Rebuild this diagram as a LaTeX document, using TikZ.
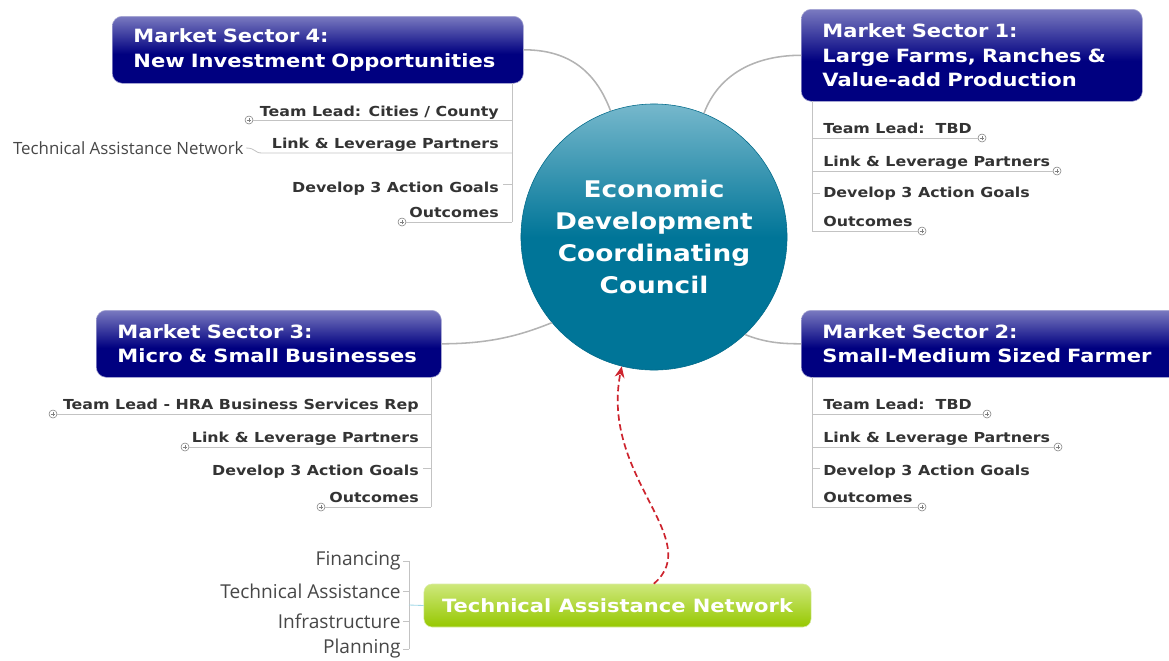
\documentclass[tikz,border=0pt]{standalone}
\usepackage{fontspec}
\setmainfont{DejaVu Sans}[FakeStretch=1.15]
\newfontfamily\lightfont{Open Sans}
\usetikzlibrary{arrows.meta}

\definecolor{navytop}{RGB}{122,122,192}
\definecolor{navybot}{RGB}{0,0,128}
\definecolor{tealtop}{RGB}{118,184,204}
\definecolor{tealbot}{RGB}{0,117,152}
\definecolor{greentop}{RGB}{206,232,124}
\definecolor{greenbot}{RGB}{150,200,0}
\definecolor{itemgray}{RGB}{51,51,51}
\definecolor{twiggray}{RGB}{195,195,195}
\definecolor{stubblue}{RGB}{160,215,230}
\definecolor{arrowred}{RGB}{205,35,45}

\pgfdeclareverticalshading{secshade}{100bp}{color(0bp)=(navybot); color(47bp)=(navybot); color(75bp)=(navytop); color(100bp)=(navytop)}
\pgfdeclareverticalshading{hubshade}{100bp}{color(0bp)=(tealbot); color(50bp)=(tealbot); color(75bp)=(tealtop); color(100bp)=(tealtop)}

\tikzset{
	sector/.style={rounded corners=0.25cm, shading=secshade, draw=navybot!35, line width=0.4pt, text=white,
		align=left, anchor=north west, inner xsep=0.53cm, font=\bfseries\fontsize{13}{17.6}\selectfont},
	item/.style={text=itemgray, font=\bfseries\fontsize{9.8}{12}\selectfont, inner sep=0pt},
	twig/.style={draw=twiggray, line width=0.6pt},
	branch/.style={draw=twiggray!92!black, line width=1.1pt},
	plusbtn/.style={circle, draw=gray, fill=white, minimum size=0.2cm, inner sep=0pt, line width=0.4pt,
		path picture={\draw[line width=0.5pt] ([xshift=-0.06cm]path picture bounding box.center) -- ([xshift=0.06cm]path picture bounding box.center)
			([yshift=-0.06cm]path picture bounding box.center) -- ([yshift=0.06cm]path picture bounding box.center);}},
	tanote/.style={text=black!72, font=\lightfont\fontsize{13.6}{15}\selectfont, inner sep=1.5pt},
}

\begin{document}
\begin{tikzpicture}[x=0.025cm, y=-0.025cm]
		%%%%% START %%%%%
		\useasboundingbox (0,0) rectangle (1169,660);
		\clip (0,0) rectangle (1169,660);
		
		% hub
		\node[circle, minimum size=6.65cm, shading=hubshade, draw=tealbot!90!black, line width=0.4pt, text=white,
			align=center, font=\bfseries\fontsize{16.3}{22.7}\selectfont] (hub) at (654,237)
			{Economic\\Development\\Coordinating\\Council};
		
		% sectors
		\node[sector, minimum width=10.275cm, minimum height=1.675cm, text width=9.215cm] (sec4) at (112,16)
			{Market Sector 4:\\New Investment Opportunities};
		\node[sector, minimum width=8.525cm, minimum height=2.3cm, text width=7.465cm] (sec1) at (801,9)
			{Market Sector 1:\\Large Farms, Ranches \&\\Value-add Production};
		\node[sector, minimum width=8.625cm, minimum height=1.675cm, text width=7.565cm] (sec3) at (96,310)
			{Market Sector 3:\\Micro \& Small Businesses};
		\node[sector, minimum width=9.5cm, minimum height=1.675cm, text width=8.44cm] (sec2) at (801,310)
			{Market Sector 2:\\Small-Medium Sized Farmer};
		
		\draw[branch] (sec4.east) .. controls +(45,0) and +(-15,-40) .. (hub.109);
		\draw[branch] (hub.68) .. controls +(15,-40) and +(-45,0) .. (sec1.west);
		\draw[branch] (sec3.east) .. controls +(50,0) and +(-30,12) .. (hub.220);
		\draw[branch] (hub.313) .. controls +(20,8) and +(-20,0) .. (sec2.west);
		
		% sector 4
		\coordinate (s4sp) at (512,83);
		\node[item, anchor=base east] (s4a) at (499,116) {Team Lead: Cities / County};
		\node[plusbtn] (s4ap) at (249,120) {};
		\draw[twig] (s4ap) -- (s4ap -| s4sp);
		\node[item, anchor=base east] (s4b) at (499,148) {Link \& Leverage Partners};
		\node[tanote, anchor=east, font=\lightfont\fontsize{12}{14}\selectfont] (s4net) at (246,148) {Technical Assistance Network};
		\coordinate (s4bl) at (262,153);
		\draw[twig] (s4net.east) .. controls +(10,0) and +(-8,0) .. (s4bl) -- (s4bl -| s4sp);
		\node[item, anchor=base east] (s4c) at (499,192) {Develop 3 Action Goals};
		\coordinate (s4ct) at (503,184);
		\draw[twig] (s4ct) -- (s4ct -| s4sp);
		\node[item, anchor=base east] (s4d) at (499,217) {Outcomes};
		\node[plusbtn] (s4dp) at (402,222) {};
		\draw[twig] (s4dp) -- (s4dp -| s4sp);
		\draw[twig] (s4sp) -- (s4sp |- s4dp);
		
		% sector 1
		\coordinate (s1sp) at (812,101);
		\node[item, anchor=base west] (s1a) at (823,133) {Team Lead:\ \ TBD};
		\node[plusbtn] (s1ap) at (982,138) {};
		\draw[twig] (s1ap) -- (s1ap -| s1sp);
		\node[item, anchor=base west] (s1b) at (823,166) {Link \& Leverage Partners};
		\node[plusbtn] (s1bp) at (1057,171) {};
		\draw[twig] (s1bp) -- (s1bp -| s1sp);
		\node[item, anchor=base west] (s1c) at (823,197) {Develop 3 Action Goals};
		\coordinate (s1ct) at (820,193);
		\draw[twig] (s1ct) -- (s1ct -| s1sp);
		\node[item, anchor=base west] (s1d) at (823,226) {Outcomes};
		\node[plusbtn] (s1dp) at (922,231) {};
		\draw[twig] (s1dp) -- (s1dp -| s1sp);
		\draw[twig] (s1sp) -- (s1sp |- s1dp);
		
		% sector 3
		\coordinate (s3sp) at (431,377);
		\node[item, anchor=base east] (s3a) at (419,409) {Team Lead - HRA Business Services Rep};
		\node[plusbtn] (s3ap) at (53,414) {};
		\draw[twig] (s3ap) -- (s3ap -| s3sp);
		\node[item, anchor=base east] (s3b) at (419,442) {Link \& Leverage Partners};
		\node[plusbtn] (s3bp) at (185,447) {};
		\draw[twig] (s3bp) -- (s3bp -| s3sp);
		\node[item, anchor=base east] (s3c) at (419,475) {Develop 3 Action Goals};
		\coordinate (s3ct) at (423,468);
		\draw[twig] (s3ct) -- (s3ct -| s3sp);
		\node[item, anchor=base east] (s3d) at (419,502) {Outcomes};
		\node[plusbtn] (s3dp) at (321,507) {};
		\draw[twig] (s3dp) -- (s3dp -| s3sp);
		\draw[twig] (s3sp) -- (s3sp |- s3dp);
		
		% sector 2
		\coordinate (s2sp) at (812,377);
		\node[item, anchor=base west] (s2a) at (823,409) {Team Lead:\ \ TBD};
		\node[plusbtn] (s2ap) at (987,414) {};
		\draw[twig] (s2ap) -- (s2ap -| s2sp);
		\node[item, anchor=base west] (s2b) at (823,442) {Link \& Leverage Partners};
		\node[plusbtn] (s2bp) at (1058,447) {};
		\draw[twig] (s2bp) -- (s2bp -| s2sp);
		\node[item, anchor=base west] (s2c) at (823,475) {Develop 3 Action Goals};
		\coordinate (s2ct) at (820,468);
		\draw[twig] (s2ct) -- (s2ct -| s2sp);
		\node[item, anchor=base west] (s2d) at (823,502) {Outcomes};
		\node[plusbtn] (s2dp) at (922,507) {};
		\draw[twig] (s2dp) -- (s2dp -| s2sp);
		\draw[twig] (s2sp) -- (s2sp |- s2dp);
		
		% technical assistance network
		\node[rounded corners=0.2cm, minimum width=9.675cm, minimum height=1.075cm, top color=greentop, bottom color=greenbot,
			draw=greenbot!35, line width=0.4pt, text=white, font=\bfseries\fontsize{13}{15}\selectfont] (tan) at (617.5,605.5)
			{Technical Assistance Network};
		\coordinate (brk) at (409,605);
		\node[tanote, anchor=east] (fin) at (403,561) {Financing};
		\node[tanote, anchor=east] (tas) at (403,591) {Technical Assistance};
		\node[tanote, anchor=east] (inf) at (403,621) {Infrastructure};
		\node[tanote, anchor=east] (pla) at (403,649) {Planning};
		\foreach \t in {fin,tas,inf,pla}
			\draw[twig] (\t.east) -- (\t.east -| brk);
		\draw[twig] (brk |- fin.east) -- (brk |- pla.east);
		\draw[stubblue, line width=0.6pt] (brk) -- (tan.west);
		
		\draw[arrowred, line width=1.2pt, dash pattern=on 4.5pt off 2.5pt, -{Stealth[length=8pt, width=7pt]}]
			(tan.31) .. controls +(52,-44) and +(-22,110) .. (hub.256);
		
		%%%%% END %%%%%
	\end{tikzpicture}
\end{document}
